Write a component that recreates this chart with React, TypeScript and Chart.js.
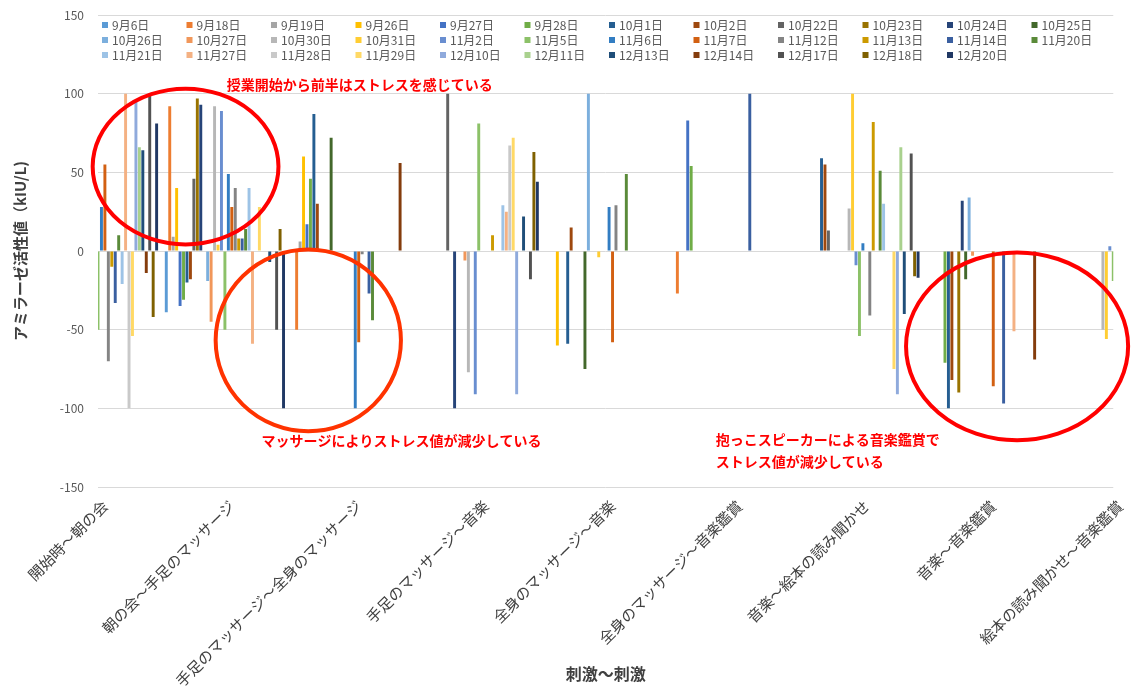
import React, { useEffect, useRef } from "react";
import { Chart, registerables } from "chart.js";
Chart.register(...registerables);

const categories = [
  "開始時～朝の会",
  "朝の会～手足のマッサージ",
  "手足のマッサージ～全身のマッサージ",
  "手足のマッサージ～音楽",
  "全身のマッサージ～音楽",
  "全身のマッサージ～音楽鑑賞",
  "音楽～絵本の読み聞かせ",
  "音楽～音楽鑑賞",
  "絵本の読み聞かせ～音楽鑑賞",
];

const dates = [
  "9月6日", "9月18日", "9月19日", "9月26日", "9月27日", "9月28日",
  "10月1日", "10月2日", "10月22日", "10月23日", "10月24日", "10月25日",
  "10月26日", "10月27日", "10月30日", "10月31日", "11月2日", "11月5日",
  "11月6日", "11月7日", "11月12日", "11月13日", "11月14日", "11月20日",
  "11月21日", "11月27日", "11月28日", "11月29日", "12月10日", "12月11日",
  "12月13日", "12月14日", "12月17日", "12月18日", "12月20日",
];

const colors = [
  "#5B9BD5", "#ED7D31", "#A5A5A5", "#FFC000", "#4472C4", "#70AD47",
  "#255E91", "#9E480E", "#636363", "#997300", "#264478", "#43682B",
  "#7CAFDD", "#F1975A", "#B7B7B7", "#FFCD33", "#698ED0", "#8CC168",
  "#327DC2", "#D26012", "#848484", "#CC9A00", "#3A5FA0", "#5A8A39",
  "#9DC3E6", "#F4B183", "#C9C9C9", "#FFD966", "#8FAADC", "#A9D18E",
  "#1F4E79", "#843C0C", "#525252", "#7F6000", "#203864",
];

const N = null;
const v0906 = [N, -39, N, N, N, N, N, N, N];
const v0918 = [N, 92, -50, N, N, -27, N, N, N];
const v0919 = [N, 9, 6, N, N, N, N, N, N];
const v0926 = [N, 40, 60, N, -60, N, N, N, N];
const v0927 = [N, -35, 17, N, N, 83, N, N, N];
const v0928 = [N, -31, 46, N, N, 54, N, -71, N];
const v1001 = [N, -20, 87, N, -59, N, 59, -100, N];
const v1002 = [N, -18, 30, N, 15, N, 55, -82, N];
const v1022 = [N, 46, N, 100, N, N, 13, N, N];
const v1023 = [N, 97, N, N, N, N, N, -90, N];
const v1024 = [N, 93, N, -100, N, N, N, 32, N];
const v1025 = [N, N, 72, N, -75, N, N, -18, N];
const v1026 = [N, -19, N, N, 100, N, N, 34, N];
const v1027 = [N, -45, N, -6, N, N, N, -3, N];
const v1030 = [N, 92, N, -77, N, N, 27, N, -50];
const v1031 = [N, 4, N, N, -4, N, 100, N, -56];
const v1102 = [N, 89, N, -91, N, N, -9, N, 3];
const v1105 = [-50, -50, N, 81, N, N, -54, N, -19];
const v1106 = [28, 49, -100, N, 28, N, 5, N, N];
const v1107 = [55, 28, -58, N, -58, N, N, -86, N];
const v1112 = [-70, 40, -2, N, 29, N, -41, N, N];
const v1113 = [-10, 8, N, 10, N, N, 82, N, N];
const v1114 = [-33, 8, -27, N, N, 100, N, -97, N];
const v1120 = [10, 14, -44, N, 49, N, 51, N, N];
const v1121 = [-21, 40, N, 29, N, N, 30, N, N];
const v1127 = [100, -59, N, 25, N, N, N, -51, N];
const v1128 = [-100, N, N, 67, N, N, N, N, N];
const v1129 = [-54, 28, N, 72, N, N, -75, N, N];
const v1210 = [96, N, N, -91, N, N, -91, N, N];
const v1211 = [66, N, N, N, N, N, 66, N, N];
const v1213 = [64, -7, N, 22, N, N, -40, N, N];
const v1214 = [-14, N, 56, N, N, N, N, -69, N];
const v1217 = [100, -50, N, -18, N, N, 62, N, N];
const v1218 = [-42, 14, N, 63, N, N, -16, N, N];
const v1220 = [81, -100, N, 44, N, N, -17, N, N];

const seriesValues = [
  v0906, v0918, v0919, v0926, v0927, v0928, v1001, v1002, v1022, v1023, v1024, v1025,
  v1026, v1027, v1030, v1031, v1102, v1105, v1106, v1107, v1112, v1113, v1114, v1120,
  v1121, v1127, v1128, v1129, v1210, v1211, v1213, v1214, v1217, v1218, v1220,
];

const yTicks = { min: -150, max: 150, step: 50 };

// annotations in (category index, value) coordinates
const ellipses = [
  { cx: 0.69, cy: 53.7, rx: 0.732, ry: 49.5, color: "#FF0000" },
  { cx: 1.657, cy: -56.8, rx: 0.73, ry: 57.8, color: "#FF3300" },
  { cx: 7.242, cy: -60.6, rx: 0.875, ry: 59.7, color: "#FF0000" },
];
const notes = [
  { x: 1.015, y: 105.7, text: "授業開始から前半はストレスを感じている" },
  { x: 1.289, y: -120.3, text: "マッサージによりストレス値が減少している" },
  { x: 4.867, y: -119.7, text: "抱っこスピーカーによる音楽鑑賞で" },
  { x: 4.867, y: -133.7, text: "ストレス値が減少している" },
];

const FONT = '"Noto Sans CJK JP", "Noto Sans", sans-serif';

const overlayPlugin = {
  id: "overlay",
  afterDraw(chart: any) {
    const { ctx, scales } = chart;
    const x = scales.x;
    const y = scales.y;
    ctx.save();
    // legend
    ctx.font = `12px ${FONT}`;
    ctx.textBaseline = "middle";
    ctx.textAlign = "left";
    dates.forEach((d, i) => {
      const col = i % 12;
      const row = Math.floor(i / 12);
      const mx = 105 + col * 84.5;
      const my = 25 + row * 15;
      ctx.fillStyle = colors[i];
      ctx.fillRect(mx - 3, my - 3, 6, 6);
      ctx.fillStyle = "#595959";
      ctx.fillText(d, mx + 7, my);
    });
    // ellipses
    ellipses.forEach((e) => {
      const cx = x.getPixelForValue(e.cx);
      const cy = y.getPixelForValue(e.cy);
      const rx = Math.abs(x.getPixelForValue(e.cx + e.rx) - cx);
      const ry = Math.abs(y.getPixelForValue(e.cy + e.ry) - cy);
      ctx.beginPath();
      ctx.ellipse(cx, cy, rx, ry, 0, 0, Math.PI * 2);
      ctx.lineWidth = 4;
      ctx.strokeStyle = e.color;
      ctx.stroke();
    });
    // notes
    ctx.font = `bold 14px ${FONT}`;
    ctx.fillStyle = "#FF0000";
    notes.forEach((n) => {
      ctx.fillText(n.text, x.getPixelForValue(n.x), y.getPixelForValue(n.y));
    });
    ctx.restore();
  },
};

export default function App() {
  const ref = useRef<HTMLCanvasElement>(null);
  useEffect(() => {
    if (!ref.current) return;
    const chart = new Chart(ref.current, {
      type: "bar",
      data: {
        labels: categories,
        datasets: seriesValues.map((vals, i) => ({
          label: dates[i],
          data: vals,
          backgroundColor: colors[i],
          borderWidth: 0,
          clip: 0,
          categoryPercentage: 0.951,
          barPercentage: 0.85,
        })),
      },
      options: {
        animation: false,
        responsive: false,
        maintainAspectRatio: false,
        layout: { padding: { top: 15, right: 16, left: 0, bottom: 0 } },
        plugins: { legend: { display: false }, tooltip: { enabled: false } },
        scales: {
          x: {
            offset: false,
            grid: { display: false, drawTicks: false },
            border: { display: false },
            ticks: {
              autoSkip: false,
              minRotation: 45,
              maxRotation: 45,
              padding: 10,
              labelOffset: 7,
              color: "#404040",
              font: { size: 15, family: FONT },
            },
            title: {
              display: true,
              text: "刺激～刺激",
              color: "#404040",
              font: { size: 16, weight: "bold", family: FONT },
              padding: { top: 4, bottom: 3 },
            },
            afterFit: (s: any) => {
              s.height = 200;
            },
          },
          y: {
            min: yTicks.min,
            max: yTicks.max,
            ticks: {
              stepSize: yTicks.step,
              padding: 14,
              color: "#595959",
              font: { size: 12, family: FONT },
            },
            grid: { color: "#D9D9D9", drawTicks: false },
            border: { display: false },
            title: {
              display: true,
              text: "アミラーゼ活性値（kIU/L)",
              color: "#404040",
              font: { size: 15, weight: "bold", family: FONT },
              padding: { top: 11, bottom: 0 },
            },
            afterFit: (s: any) => {
              s.width = 98;
              s.paddingTop = 8;
              s.paddingBottom = 8;
            },
          },
        },
      },
      plugins: [overlayPlugin],
    } as any);
    return () => chart.destroy();
  }, []);
  return (
    <div style={{ position: "fixed", left: 0, top: 0, width: 1136, height: 687, background: "#fff" }}>
      <canvas ref={ref} width={1136} height={687} style={{ display: "block" }} />
    </div>
  );
}
